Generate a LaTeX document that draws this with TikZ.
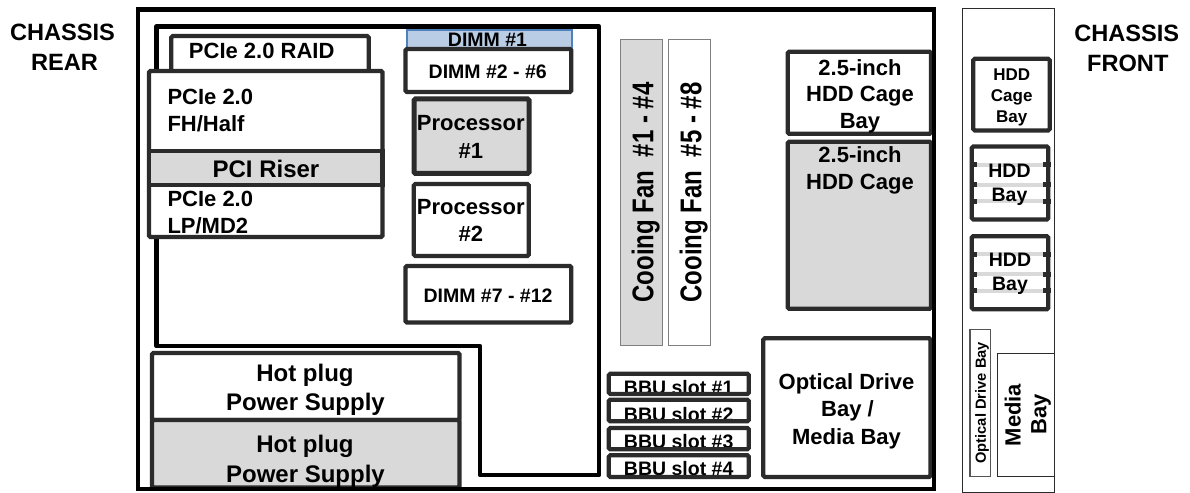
\documentclass[tikz,border=0pt]{standalone}
\usepackage{fontspec}
\setmainfont{Liberation Sans}
\definecolor{bx}{HTML}{2B2B2B}
\definecolor{fillg}{HTML}{D9D9D9}
\definecolor{dimmfill}{HTML}{B9CDE5}
\definecolor{dimmline}{HTML}{4F81BD}
\definecolor{fanline}{HTML}{7F7F7F}
\tikzset{
  box/.style={draw=bx, line width=4.3bp, rounded corners=1.5bp},
  frame/.style={draw=black, line width=4.5bp},
  thinbox/.style={draw=bx!80, line width=1.2bp},
  lbl/.style={inner sep=0pt, anchor=base, font=\bfseries\fontsize{22bp}{27bp}\selectfont},
  lblL/.style={lbl, font=\bfseries\fontsize{24bp}{29bp}\selectfont},
  lblM/.style={lbl, font=\bfseries\fontsize{19.5bp}{24bp}\selectfont},
  lblS/.style={lbl, font=\bfseries\fontsize{17bp}{21bp}\selectfont},
  lblC/.style={lbl, font=\bfseries\fontsize{23.6bp}{29bp}\selectfont},
  fantext/.style={inner sep=0pt, anchor=center, rotate=90, yscale=1.25,
    text height=17.2bp, text depth=0bp, font=\bfseries\fontsize{24bp}{29bp}\selectfont},
  vtext/.style={inner sep=0pt, anchor=center, rotate=90,
    text height=15.75bp, text depth=0bp, font=\bfseries\fontsize{22bp}{27bp}\selectfont},
  vtextS/.style={inner sep=0pt, anchor=center, rotate=90,
    text height=10.5bp, text depth=0bp, font=\bfseries\fontsize{14.7bp}{18bp}\selectfont},
}
\begin{document}
\begin{tikzpicture}[x=1bp,y=-1bp]
\useasboundingbox (0,0) rectangle (1190,493);

% chassis labels
\node[lblC] (rear1) at (62.5,40.8) {CHASSIS};
\node[lblC] (rear2) at (64.5,71) {REAR};
\node[lblC] (front1) at (1126.7,41.3) {CHASSIS};
\node[lblC] (front2) at (1127.8,71.5) {FRONT};

% front panel
\draw[draw=bx, line width=1.2bp] (962.7,8.3) rectangle (1054.3,492.3);

% motherboard outline
\draw[frame, line join=round] (156.5,26.7) -- (599,26.7) -- (599,475) -- (480,475) -- (480,346) -- (156.5,346) -- cycle;

% PCIe cards
\draw[box, fill=white] (171.3,36) rectangle (368.7,80);
\node[lbl] (raid) at (261.7,58.3) {PCIe 2.0 RAID};
\draw[box, fill=white] (149,71) rectangle (382.5,237);
\draw[box, fill=fillg, rounded corners=0] (149,151) rectangle (382.5,185);
\node[lbl, anchor=base west] (fh1) at (167.3,105) {PCIe 2.0};
\node[lbl, anchor=base west] (fh2) at (167.3,131.7) {FH/Half};
\node[lblL] (riser) at (266,177.5) {PCI Riser};
\node[lbl, anchor=base west] (lp1) at (167.3,206.7) {PCIe 2.0};
\node[lbl, anchor=base west] (lp2) at (167.3,233.3) {LP/MD2};

% DIMMs and processors
\draw[draw=dimmline, fill=dimmfill, line width=2bp] (406.5,30.5) rectangle (572,52);
\node[lblM] (dimm1) at (487.5,46.5) {DIMM \#1};
\draw[box, fill=white] (405.5,49) rectangle (571.3,92);
\node[lblM] (dimm26) at (487.8,78.3) {DIMM \#2 - \#6};
\draw[box, line width=5bp, fill=fillg] (414,99) rectangle (529,173.5);
\node[lbl] (cpu1a) at (470.8,130.8) {Processor};
\node[lbl] (cpu1b) at (470.8,158.3) {\#1};
\draw[box, fill=white] (413.8,184) rectangle (528.8,256);
\node[lbl] (cpu2a) at (470.8,215) {Processor};
\node[lbl] (cpu2b) at (470.8,241.7) {\#2};
\draw[box, fill=white] (405.5,266) rectangle (571.3,322.5);
\node[lblM] (dimm712) at (488,302.3) {DIMM \#7 - \#12};

% power supplies
\draw[box, fill=white] (152,353) rectangle (459.5,420);
\node[lblL] (psu1a) at (305,382) {Hot plug};
\node[lblL] (psu1b) at (305.5,410.5) {Power Supply};
\draw[box, fill=fillg] (152,420) rectangle (459.5,487.5);
\node[lblL] (psu2a) at (305,452) {Hot plug};
\node[lblL] (psu2b) at (305.5,482.5) {Power Supply};

% fans
\draw[draw=fanline, line width=1bp, fill=fillg] (620.5,40) rectangle (662,346);
\node[fantext] (fan1) at (642.5,192.5) {Cooing Fan\ \ \#1 - \#4};
\draw[draw=fanline, line width=1bp, fill=white] (668.5,40) rectangle (710.5,346);
\node[fantext] (fan2) at (690.5,192.5) {Cooing Fan\ \ \#5 - \#8};

% BBU slots
\foreach \t/\b/\bl/\n in {373.8/394/394.7/1, 399.7/421.3/421.3/2, 428/449.3/448/3, 455.3/477/475.7/4}{
  \fill[white] (608.8,\t) rectangle (748.8,\b);
  \node[lblM] (bbu\n) at (678.7,\bl) {BBU slot \#\n};
  \draw[box] (608.8,\t) rectangle (748.8,\b);
}

% HDD cage
\draw[box, fill=white] (787.7,51.7) rectangle (931,133.8);
\node[lbl] (cb1) at (860,76) {2.5-inch};
\node[lbl] (cb2) at (860,101.7) {HDD Cage};
\node[lbl] (cb3) at (860,128.8) {Bay};
\draw[box, fill=fillg] (787.7,141.7) rectangle (931,308.8);
\node[lbl] (cg1) at (860,162.7) {2.5-inch};
\node[lbl] (cg2) at (860,189.3) {HDD Cage};

% optical drive
\draw[box, fill=white] (763.3,338.3) rectangle (930.5,477);
\node[lbl] (od1) at (846.5,389.3) {Optical Drive};
\node[lbl] (od2) at (847.5,416.7) {Bay /};
\node[lbl] (od3) at (846.5,444) {Media Bay};

% outer chassis
\draw[frame] (138,9.5) rectangle (934,489);

% front bays
\draw[box, fill=white] (973.3,58.8) rectangle (1049.7,130.5);
\node[lblS] (fcb1) at (1011.7,80.7) {HDD};
\node[lblS] (fcb2) at (1011.7,101.7) {Cage};
\node[lblS] (fcb3) at (1011.7,122.3) {Bay};

\foreach \top/\nm in {146.5/A, 236.2/B}{
  \fill[white] (971.8,\top) rectangle (1048.3,\top+73);
  \foreach \s in {18.3, 38.2, 54.8}{
    \fill[fillg] (974,\top+\s-2) rectangle (1046,\top+\s+2);
  }
  \draw[box] (971.8,\top) rectangle (1048.3,\top+73);
  \foreach \s in {18.3, 38.2, 54.8}{
    \fill[bx] (969.6,\top+\s-2.5) rectangle (977,\top+\s+2.5);
    \fill[bx] (1043,\top+\s-2.5) rectangle (1050.5,\top+\s+2.5);
  }
}
\node[lblM] (hb1a) at (1009.5,177.3) {HDD};
\node[lblM] (hb1b) at (1009.5,201.5) {Bay};
\node[lblM] (hb2a) at (1010,266.7) {HDD};
\node[lblM] (hb2b) at (1010,291) {Bay};

\draw[draw=bx!80, line width=1.5bp] (969.8,329.5) rectangle (990.3,476.5);
\node[vtextS] (odb) at (980.5,402.8) {Optical Drive Bay};
\draw[draw=bx, line width=1.2bp] (997.8,353.5) rectangle (1054.3,476.5);
\node[vtext] (mb1) at (1012.8,415) {Media};
\node[vtext] (mb2) at (1038.5,414) {Bay};
\end{tikzpicture}
\end{document}
